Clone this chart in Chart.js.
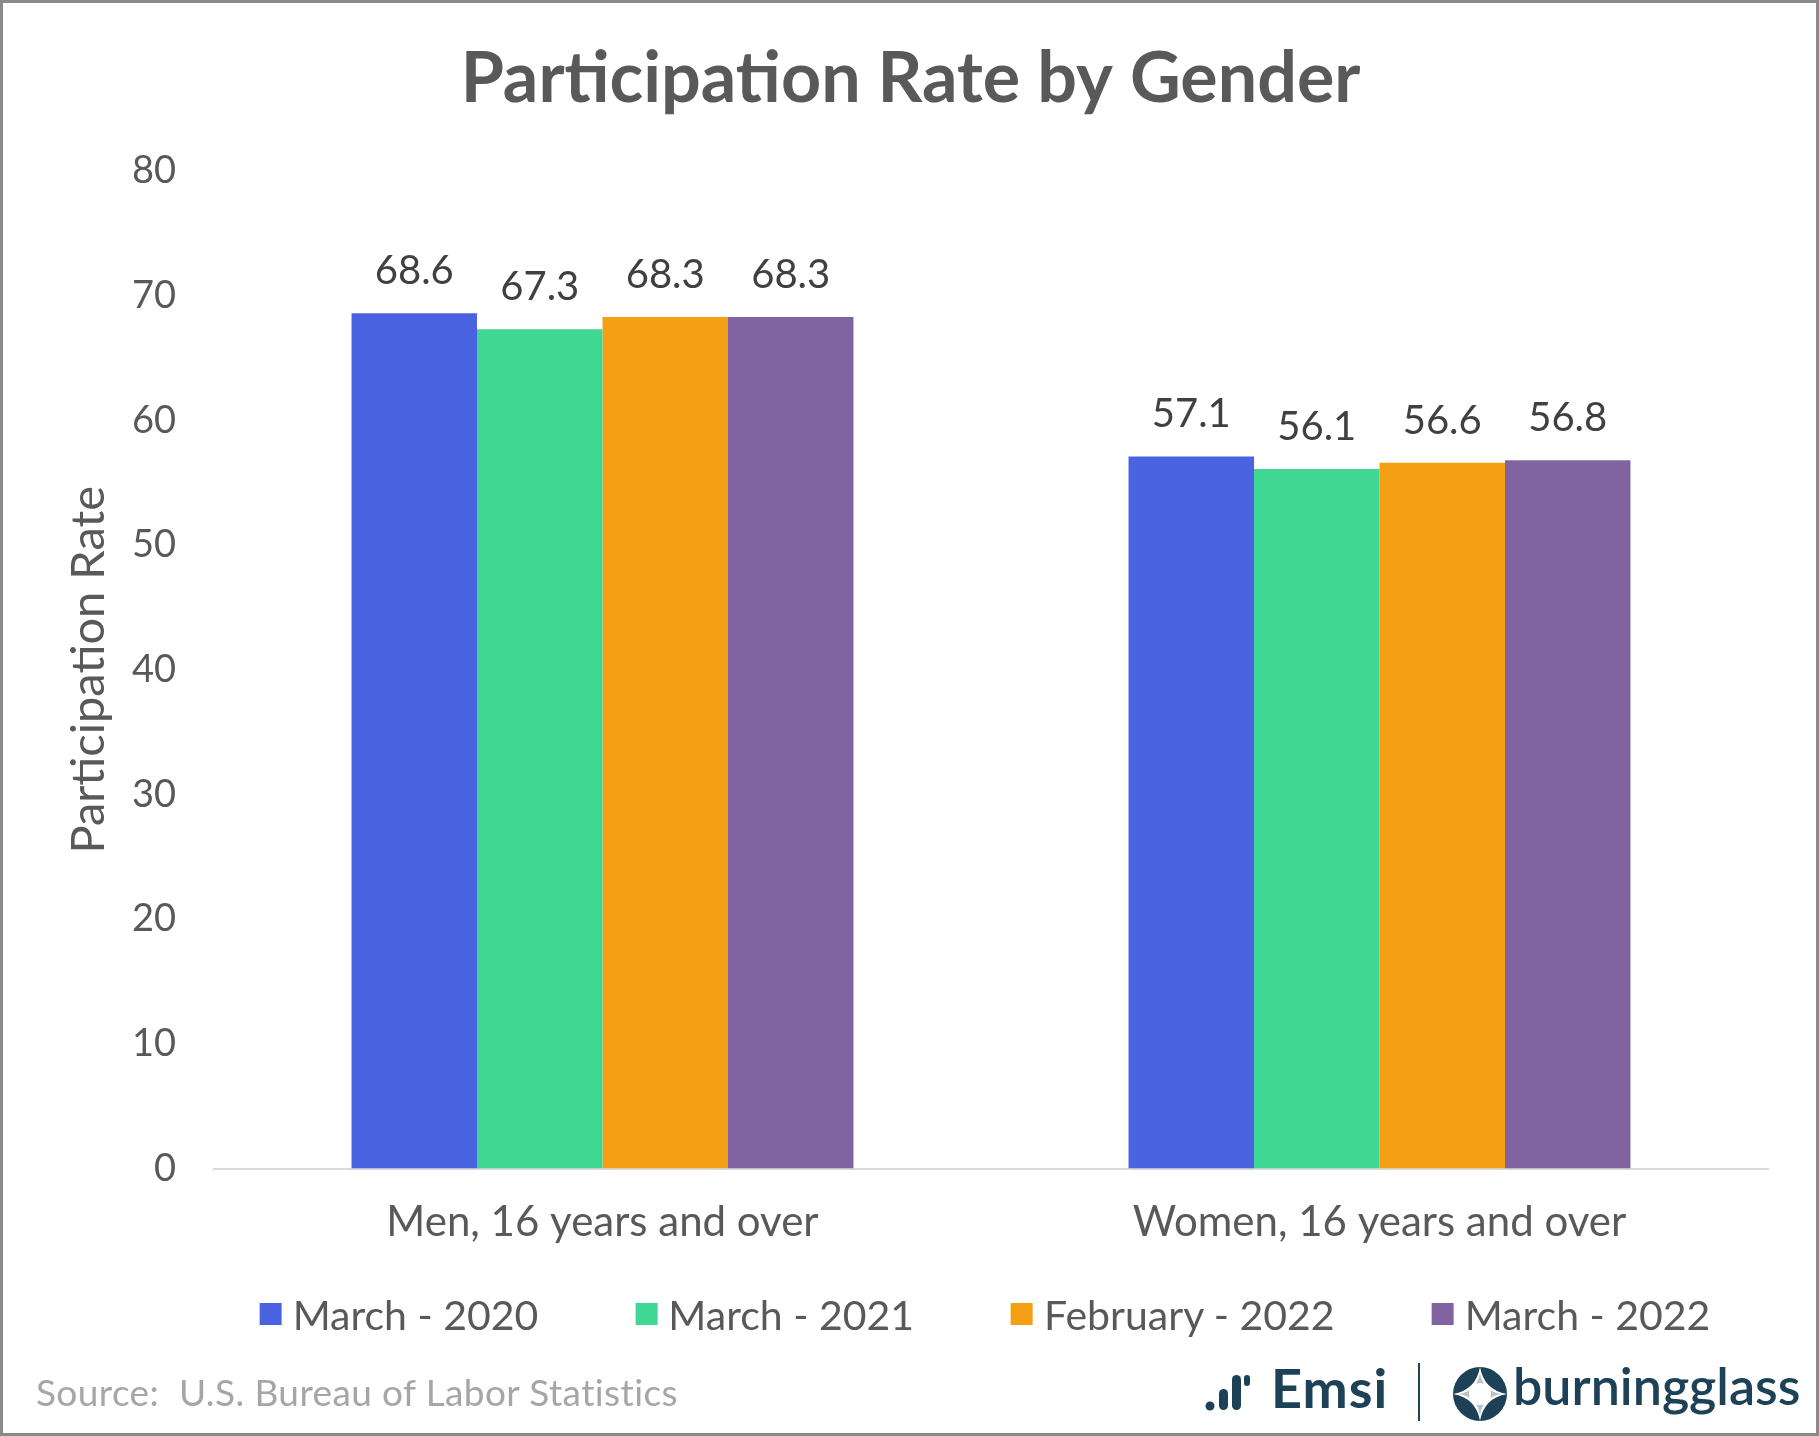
<!DOCTYPE html>
<html lang="en">
<head>
  <meta charset="UTF-8" />
  <title>Participation Rate by Gender</title>
  <script src="https://cdn.jsdelivr.net/npm/chart.js"></script>
  <style>
    html, body { margin: 0; padding: 0; background: #fff; }
    #wrap {
      position: relative;
      width: 1819px;
      height: 1436px;
      box-sizing: border-box;
      border: 3px solid #8a8a8a;
      font-family: Lato, sans-serif;
    }
    .source {
      position: absolute;
      left: 33px;
      top: 1367px;
      font-size: 37px;
      line-height: 44px;
      letter-spacing: 0.4px;
      color: #a6a6a6;
      white-space: pre;
    }
    #legend {
      position: absolute;
      left: 982px;
      top: 1286px;
      height: 50px;
      transform: translateX(-50%);
      display: flex;
      align-items: center;
      gap: 97px;
      white-space: nowrap;
    }
    #legend .item { display: flex; align-items: center; gap: 11px; font-size: 41px; color: #595959; }
    #legend .box { width: 22px; height: 22px; }
    .logo { position: absolute; color: #1d4257; font-weight: bold; white-space: nowrap; }
  </style>
</head>
<body>
  <div id="wrap">
    <canvas id="chart"></canvas>
    <div id="legend"></div>
    <div class="source">Source:  U.S. Bureau of Labor Statistics</div>
    <!-- logo strip, bottom right -->
    <svg class="logo" style="left:1202px; top:1366px" width="46" height="42" viewBox="0 0 46 42">
      <circle cx="5" cy="37" r="4.5" fill="#1d4257"/>
      <rect x="14" y="20" width="9" height="21" rx="4.5" fill="#1d4257"/>
      <rect x="27" y="6" width="9" height="35" rx="4.5" fill="#1d4257"/>
      <rect x="39" y="6" width="6" height="11" rx="3" fill="#1d4257"/>
    </svg>
    <div class="logo" style="left:1268px; top:1353px; font-size:54px; line-height:64px; letter-spacing:1px">Emsi</div>
    <div class="logo" style="left:1415px; top:1360px; width:2px; height:58px; background:#1d4257"></div>
    <svg class="logo" style="left:1449px; top:1363px" width="56" height="56" viewBox="-28 -28 56 56">
      <circle r="27" fill="#1d4257"/>
      <path d="M0,-27 Q4,-4 27,0 Q4,4 0,27 Q-4,4 -27,0 Q-4,-4 0,-27 Z" fill="#ffffff"/>
      <path d="M0,-21 Q3,-3 21,0 Q3,3 0,21 Q-3,3 -21,0 Q-3,-3 0,-21 Z" fill="#b9c2c8"/>
      <circle r="11" fill="#ffffff"/>
    </svg>
    <div class="logo" style="left:1510px; top:1351px; font-size:52px; line-height:62px; font-weight:600">burningglass</div>
  </div>

  <script>
    const categories = ['Men, 16 years and over', 'Women, 16 years and over'];
    const seriesNames = ['March - 2020', 'March - 2021', 'February - 2022', 'March - 2022'];
    const march2020 = [68.6, 57.1];
    const march2021 = [67.3, 56.1];
    const feb2022 = [68.3, 56.6];
    const march2022 = [68.3, 56.8];
    const yMin = 0, yMax = 80, yStep = 10;

    const colors = ['#4a63e1', '#40d693', '#f5a014', '#8064a2'];
    const seriesValues = [march2020, march2021, feb2022, march2022];

    // value labels above each bar (no datalabels plugin available)
    const valueLabels = {
      id: 'valueLabels',
      afterDatasetsDraw(chart) {
        const ctx = chart.ctx;
        ctx.save();
        ctx.font = '40px Lato';
        ctx.fillStyle = '#404040';
        ctx.textAlign = 'center';
        ctx.textBaseline = 'bottom';
        chart.data.datasets.forEach((ds, i) => {
          chart.getDatasetMeta(i).data.forEach((bar, j) => {
            ctx.fillText(ds.data[j].toFixed(1), bar.x, bar.y - 22);
          });
        });
        ctx.restore();
      }
    };

    // legend built as html so the item spacing can follow the original
    const legendEl = document.getElementById('legend');
    seriesNames.forEach((name, i) => {
      const item = document.createElement('div');
      item.className = 'item';
      item.innerHTML = '<span class="box" style="background:' + colors[i] + '"></span><span>' + name + '</span>';
      legendEl.appendChild(item);
    });

    const ctx = document.getElementById('chart').getContext('2d');
    new Chart(ctx, {
      type: 'bar',
      data: {
        labels: categories,
        datasets: seriesNames.map((name, i) => ({
          label: name,
          data: seriesValues[i],
          backgroundColor: colors[i],
          borderWidth: 0,
          categoryPercentage: 0.646,
          barPercentage: 1.0
        }))
      },
      options: {
        responsive: true,
        maintainAspectRatio: false,
        animation: false,
        layout: { padding: { left: 50, right: 48, top: 0, bottom: 164 } },
        scales: {
          x: {
            grid: { display: false },
            border: { display: true, color: '#d9d9d9', width: 2 },
            ticks: { color: '#595959', font: { family: 'Lato', size: 42 }, padding: 21 }
          },
          y: {
            min: yMin,
            max: yMax,
            grid: { display: false },
            border: { display: false },
            ticks: { stepSize: yStep, color: '#595959', font: { family: 'Lato', size: 38 }, padding: 30 },
            title: {
              display: true,
              text: 'Participation Rate',
              color: '#595959',
              font: { family: 'Lato', size: 47 },
              padding: { top: 8, bottom: 0 }
            },
            afterFit(scale) { scale.width = 161; }
          }
        },
        plugins: {
          title: {
            display: true,
            text: 'Participation Rate by Gender',
            color: '#595959',
            font: { family: 'Lato', size: 70, weight: 'bold' },
            padding: { top: 34, bottom: 50 }
          },
          legend: { display: false },
          tooltip: { enabled: false }
        }
      },
      plugins: [valueLabels]
    });
  </script>
</body>
</html>
